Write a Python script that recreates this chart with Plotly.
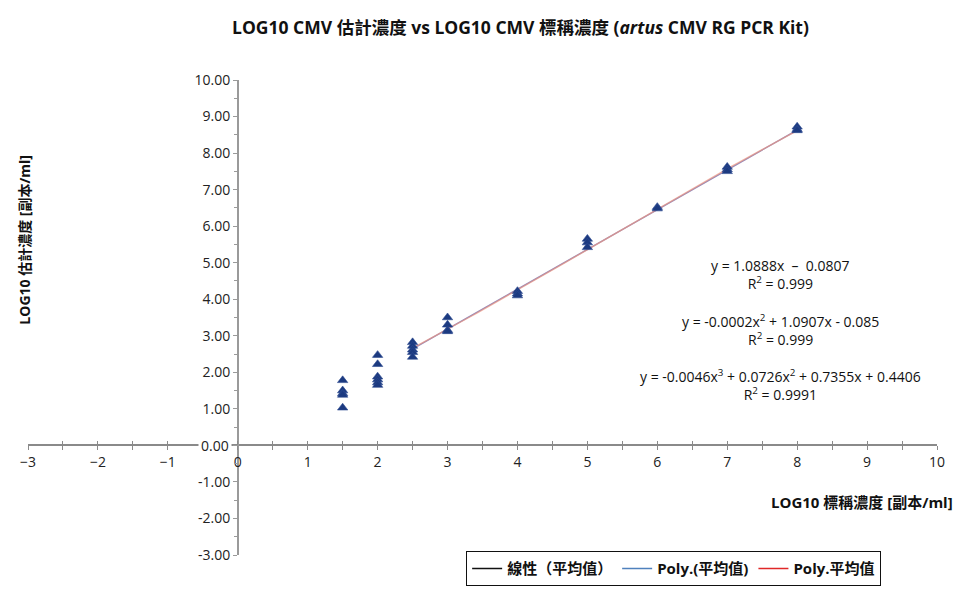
import numpy as np
import plotly.graph_objects as go

# Nominal concentration levels (log10 copies/ml) and measured replicates per level
lvl_1_5 = [1.78, 1.50, 1.42, 1.38, 1.03]
lvl_2_0 = [2.47, 2.22, 1.88, 1.80, 1.72, 1.65]
lvl_2_5 = [2.82, 2.72, 2.62, 2.55, 2.42]
lvl_3_0 = [3.50, 3.30, 3.15, 3.12]
lvl_4_0 = [4.22, 4.15, 4.10]
lvl_5_0 = [5.65, 5.55, 5.42]
lvl_6_0 = [6.52, 6.48]
lvl_7_0 = [7.62, 7.55, 7.50]
lvl_8_0 = [8.72, 8.65, 8.62]

nominal_levels = [1.5, 2.0, 2.5, 3.0, 4.0, 5.0, 6.0, 7.0, 8.0]
measured = [lvl_1_5, lvl_2_0, lvl_2_5, lvl_3_0, lvl_4_0, lvl_5_0, lvl_6_0, lvl_7_0, lvl_8_0]

# Trendline coefficients (highest power first)
linear_coef = [1.0888, -0.0807]
poly2_coef = [-0.0002, 1.0907, -0.085]
poly3_coef = [-0.0046, 0.0726, 0.7355, 0.4406]
trend_x_range = [2.5, 8.0]

legend_names = ["線性（平均值）", "Poly.(平均值)", "Poly.平均值"]

x_tick_vals = list(range(-3, 11))
y_tick_vals = list(range(-3, 11))
y_tick_text = ["" if v == 0 else f"{v:.2f}" for v in y_tick_vals]

FONT = "'Open Sans', 'Noto Sans CJK TC', sans-serif"

xs, ys = [], []
for lv, reps in zip(nominal_levels, measured):
    xs += [lv] * len(reps)
    ys += reps

fig = go.Figure()

tx = np.linspace(trend_x_range[0], trend_x_range[1], 60)
trend_specs = [
    (linear_coef, legend_names[0], "rgba(110,70,130,0.55)", 1.4, "#111111"),
    (poly2_coef, legend_names[1], "rgba(90,110,190,0.35)", 1.2, "#4F81BD"),
    (poly3_coef, legend_names[2], "rgba(236,150,130,0.70)", 1.4, "#E02828"),
]
for coef, name, col, w, leg_col in trend_specs:
    fig.add_trace(go.Scatter(x=tx, y=np.polyval(coef, tx), mode="lines",
                             line=dict(color=col, width=w), showlegend=False,
                             hoverinfo="skip"))
# legend entries with solid colours
for coef, name, col, w, leg_col in trend_specs:
    fig.add_trace(go.Scatter(x=[None], y=[None], mode="lines", name=name,
                             line=dict(color=leg_col, width=1.5)))

fig.add_trace(go.Scatter(x=xs, y=ys, mode="markers", showlegend=False,
                         marker=dict(symbol="triangle-up", size=9, color="#1C3A80",
                                     line=dict(width=0.6, color="#2B4A90"))))

zero_pos = 3 / 13

fig.update_layout(
    width=971, height=598,
    paper_bgcolor="white", plot_bgcolor="white",
    margin=dict(l=28, r=34, t=80, b=36),
    font=dict(family=FONT, size=13, color="#222222"),
    title=dict(text="LOG10 CMV 估計濃度 vs LOG10 CMV 標稱濃度 (<i>artus</i> CMV RG PCR Kit)",
               x=0.536, xanchor="center", y=1 - 28 / 598, yanchor="middle",
               font=dict(family=FONT, size=17.5, color="#111111", weight="bold")),
    xaxis=dict(range=[-3, 10], anchor="free", position=zero_pos,
               showgrid=False, zeroline=False, showline=True, linecolor="#8a8a8a", linewidth=1.5,
               tickmode="array", tickvals=x_tick_vals, ticks="outside", ticklen=4,
               tickcolor="#8a8a8a", minor=dict(dtick=0.5, ticks="outside", ticklen=4, tickcolor="#8a8a8a"),
               tickfont=dict(size=14, color="#222222"), fixedrange=True),
    xaxis2=dict(range=[-3, 10], overlaying="x", anchor="free", position=zero_pos,
                showgrid=False, zeroline=False, showline=False, showticklabels=False,
                tickmode="linear", dtick=0.5, tick0=0, ticks="inside", ticklen=4, tickcolor="#8a8a8a"),
    yaxis=dict(range=[-3, 10], anchor="free", position=zero_pos,
               showgrid=False, zeroline=False, showline=True, linecolor="#9a9a9a", linewidth=1.5,
               tickmode="array", tickvals=y_tick_vals, ticktext=y_tick_text, ticks="outside", ticklen=4,
               tickcolor="#9a9a9a", minor=dict(dtick=0.5, ticks="outside", ticklen=3, tickcolor="#9a9a9a"),
               tickfont=dict(size=14, color="#222222"), fixedrange=True),
    showlegend=True,
    legend=dict(orientation="h", x=0.482, xanchor="left", y=0.008, yanchor="top",
                bordercolor="#111111", borderwidth=1, bgcolor="white",
                font=dict(family=FONT, size=15, color="#111111", weight="bold"),
                itemwidth=30),
)
# dummy trace so xaxis2 is drawn
fig.add_trace(go.Scatter(x=[None], y=[None], xaxis="x2", showlegend=False))

# zero label sits on the horizontal axis with a white backing
fig.add_annotation(text="0.00", x=0, y=0, xref="x", yref="y", xanchor="right",
                   yanchor="middle", xshift=-6, showarrow=False, bgcolor="white",
                   borderpad=2, font=dict(family=FONT, size=14, color="#222222"))

eq_blocks = [
    ("y = 1.0888x  –  0.0807<br>R<sup>2</sup> = 0.999", 277),
    ("y = -0.0002x<sup>2</sup> + 1.0907x - 0.085<br>R<sup>2</sup> = 0.999", 334),
    ("y = -0.0046x<sup>3</sup> + 0.0726x<sup>2</sup> + 0.7355x + 0.4406<br>R<sup>2</sup> = 0.9991", 390),
]
for txt, py in eq_blocks:
    fig.add_annotation(text=txt, xref="paper", yref="paper", x=(780 - 28) / 909,
                       y=(562 - py) / 482, xanchor="center", yanchor="middle",
                       align="center", showarrow=False,
                       font=dict(family=FONT, size=14, color="#111111"))

fig.add_annotation(text="LOG10 標稱濃度 [副本/ml]", xref="paper", yref="paper",
                   x=(955 - 28) / 909, y=(562 - 508) / 482, xanchor="right", yanchor="middle",
                   showarrow=False, font=dict(family=FONT, size=15, color="#111111", weight="bold"))
fig.add_annotation(text="LOG10 估計濃度 [副本/ml]", xref="paper", yref="paper",
                   x=(25 - 28) / 909, y=(562 - 242) / 482, xanchor="center", yanchor="middle",
                   textangle=-90, showarrow=False,
                   font=dict(family=FONT, size=14, color="#111111", weight="bold"))

fig.write_html("out.html")
